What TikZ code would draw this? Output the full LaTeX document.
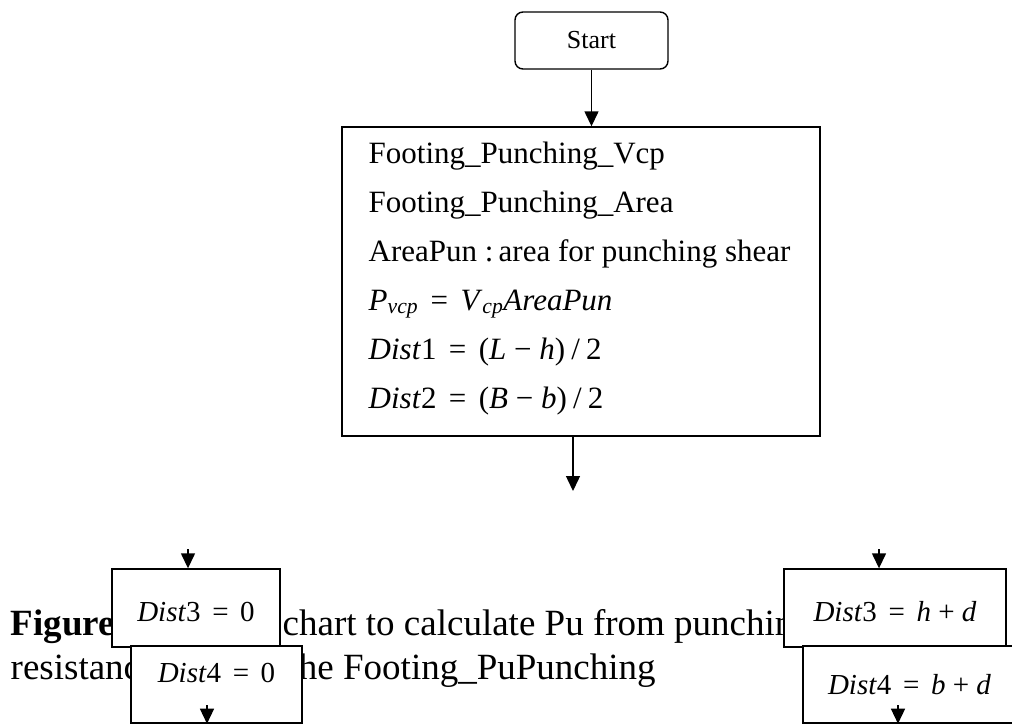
\documentclass[tikz,border=0pt]{standalone}
\usepackage{fontspec}
\setmainfont{Liberation Serif}
\usetikzlibrary{arrows.meta}
\newcommand{\EQ}{\hspace{0.4em}=\hspace{0.4em}}
\newcommand{\MI}{\hspace{0.25em}−\hspace{0.25em}}
\newcommand{\PL}{\hspace{0.25em}+\hspace{0.25em}}
\newcommand{\SL}{\hspace{0.2em}/\hspace{0.2em}}
\newcommand{\sbi}[1]{\textsubscript{\textit{#1}}}

\begin{document}
\begin{tikzpicture}[x=1pt,y=-1pt,line width=1.4pt,
    box/.style={draw,fill=white,inner sep=0pt},
    flow/.style={-{Triangle[length=15pt,width=14pt]}},
    boxfont/.style={font=\fontsize{31}{49}\selectfont},
    eqfont/.style={font=\fontsize{29}{34}\selectfont},
    capfont/.style={font=\fontsize{37}{44}\selectfont}]
  \useasboundingbox (0,0) rectangle (1012,724);
  % caption, partly hidden by the boxes
  \node[capfont,anchor=base west,inner sep=0pt] (capA) at (10,635) {\textbf{Figure}};
  \node[capfont,anchor=base west,inner sep=0pt] (capB) at (282,635) {chart to calculate Pu from punching};
  \node[capfont,anchor=base west,inner sep=0pt] (capC) at (10,679) {resistance};
  \node[capfont,anchor=base west,inner sep=0pt] (capD) at (288,679) {the Footing\_PuPunching};
  % start
  \node[box,rounded corners=8pt,minimum width=153pt,minimum height=57pt,
        font=\fontsize{26}{30}\selectfont] (start) at (591.5,40.5) {Start};
  \node[box,minimum width=478pt,minimum height=309pt] (calc) at (581,281.5) {};
  \node[boxfont,anchor=north west,align=left,inner sep=0pt] (calcText) at (368,141)
    {Footing\_Punching\_Vcp\\
     Footing\_Punching\_Area\\
     AreaPun :\,area for punching shear\\
     \textit{P}\sbi{vcp}\EQ\textit{V}\sbi{cp}\textit{AreaPun}\\
     \textit{Dist}1\EQ(\textit{L}\MI\textit{h})\SL2\\
     \textit{Dist}2\EQ(\textit{B}\MI\textit{b})\SL2};
  \draw[flow] (start.south) -- (start.south |- calc.north);
  \coordinate (calcOut) at (573,436);
  \coordinate (calcEnd) at (573,491);
  \draw[flow] (calcOut) -- (calcEnd);
  % left branch
  \node[box,eqfont,minimum width=168pt,minimum height=78pt,text height=27pt,text depth=0pt]
    (distThreeL) at (196,608) {\textit{Dist}3\EQ0};
  \node[box,eqfont,minimum width=171pt,minimum height=77pt,text height=10pt,text depth=14pt]
    (distFourL) at (216.5,684.5) {\textit{Dist}4\EQ0};
  \coordinate (inL) at (188,549);
  \draw[flow] (inL) -- (inL |- distThreeL.north);
  \coordinate (outL) at (207,705);
  \draw[flow] (outL) -- (outL |- distFourL.south);
  % right branch
  \node[box,eqfont,minimum width=222pt,minimum height=78pt,text height=27pt,text depth=0pt]
    (distThreeR) at (895,608) {\textit{Dist}3\EQ\textit{h}\PL\textit{d}};
  \node[box,eqfont,minimum width=213pt,minimum height=77pt]
    (distFourR) at (909.5,684.5) {\textit{Dist}4\EQ\textit{b}\PL\textit{d}};
  \coordinate (inR) at (879,549);
  \draw[flow] (inR) -- (inR |- distThreeR.north);
  \coordinate (outR) at (898,705);
  \draw[flow] (outR) -- (outR |- distFourR.south);
\end{tikzpicture}
\end{document}
